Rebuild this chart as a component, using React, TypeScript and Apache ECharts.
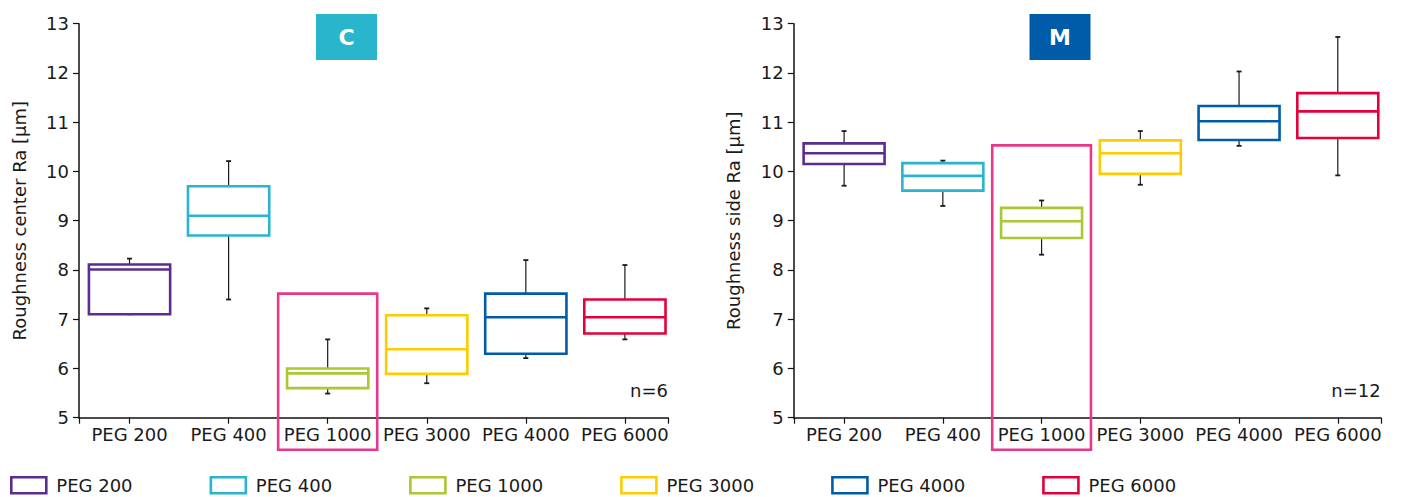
import React, { useEffect, useRef } from "react";
import * as echarts from "echarts";

const categories = ["PEG 200", "PEG 400", "PEG 1000", "PEG 3000", "PEG 4000", "PEG 6000"];
const colors = ["#5b2d8e", "#29b5cd", "#a9c834", "#ffcc00", "#005ca9", "#e4003a"];

// [min, Q1, median, Q3, max]
const centerValues = [
  [7.1, 7.1, 8.01, 8.11, 8.23],
  [7.4, 8.7, 9.1, 9.7, 10.21],
  [5.49, 5.6, 5.9, 6.0, 6.59],
  [5.7, 5.89, 6.39, 7.08, 7.22],
  [6.21, 6.3, 7.04, 7.52, 8.2],
  [6.59, 6.71, 7.04, 7.4, 8.1],
];
const sideValues = [
  [9.71, 10.15, 10.37, 10.57, 10.82],
  [9.3, 9.61, 9.91, 10.17, 10.22],
  [8.31, 8.65, 8.99, 9.26, 9.41],
  [9.73, 9.95, 10.37, 10.63, 10.82],
  [10.52, 10.64, 11.02, 11.33, 12.03],
  [9.92, 10.68, 11.22, 11.59, 12.73],
];
const yTicks = [5, 6, 7, 8, 9, 10, 11, 12, 13];
const highlightIndex = 2;
const highlightTop = [7.52, 10.53];
const panelTitles = ["C", "M"];
const panelTitleColors = ["#29b6cc", "#005ca9"];
const panelYNames = ["Roughness center Ra [µm]", "Roughness side Ra [µm]"];
const panelN = ["n=6", "n=12"];

const FONT = "DejaVu Sans, Verdana, sans-serif";
const TEXT = "#1a1a1a";

export default function App() {
  const ref = useRef<HTMLDivElement>(null);
  useEffect(() => {
    document.body.style.margin = "0";
    if (!ref.current) return;
    const chart = echarts.init(ref.current, null, { renderer: "svg" });

    const grids = [
      { left: 79, top: 23.7, width: 589, height: 394 },
      { left: 793.75, top: 23.7, width: 587, height: 394 },
    ];
    const xMin = -0.51;
    const xMax = 5.435;

    const xAxes = grids.map((_, gi) => ({
      type: "value",
      gridIndex: gi,
      min: xMin,
      max: xMax,
      splitLine: { show: false },
      axisLine: { show: true, onZero: false, lineStyle: { color: "#111", width: 1.5 } },
      axisTick: {
        show: true,
        length: 6,
        customValues: [xMin, ...categories.map((_, i) => i), xMax],
        lineStyle: { color: "#111", width: 1.2 },
      },
      axisLabel: {
        customValues: categories.map((_, i) => i),
        formatter: (v: number) => categories[Math.round(v)],
        fontSize: 18,
        fontFamily: FONT,
        color: TEXT,
        margin: 8,
      },
    }));

    const yAxes = grids.map((_, gi) => ({
      type: "value",
      gridIndex: gi,
      min: yTicks[0],
      max: yTicks[yTicks.length - 1],
      interval: 1,
      name: panelYNames[gi],
      nameLocation: "middle",
      nameGap: 51,
      nameTextStyle: { fontSize: 18, fontFamily: FONT, color: TEXT },
      splitLine: { show: false },
      axisLine: { show: true, onZero: false, lineStyle: { color: "#111", width: 1.5 } },
      axisTick: { show: true, length: 6, lineStyle: { color: "#111", width: 1.2 } },
      axisLabel: { fontSize: 18, fontFamily: FONT, color: TEXT, margin: 10 },
    }));

    const boxRender = (params: any, api: any) => {
      const x = api.value(0);
      const pMin = api.coord([x, api.value(1)]);
      const pQ1 = api.coord([x, api.value(2)]);
      const pMed = api.coord([x, api.value(3)]);
      const pQ3 = api.coord([x, api.value(4)]);
      const pMax = api.coord([x, api.value(5)]);
      const bw = api.size([0.82, 0])[0];
      const cx = pMed[0];
      const half = bw / 2;
      const color = api.visual("color");
      const wStyle = { stroke: "#1a1a1a", lineWidth: 1.2 };
      const capStyle = { stroke: "#1a1a1a", lineWidth: 1.8 };
      return {
        type: "group",
        children: [
          { type: "line", shape: { x1: cx, y1: pMax[1], x2: cx, y2: pQ3[1] }, style: wStyle },
          { type: "line", shape: { x1: cx, y1: pQ1[1], x2: cx, y2: pMin[1] }, style: wStyle },
          { type: "line", shape: { x1: cx - 2.5, y1: pMax[1], x2: cx + 2.5, y2: pMax[1] }, style: capStyle },
          { type: "line", shape: { x1: cx - 2.5, y1: pMin[1], x2: cx + 2.5, y2: pMin[1] }, style: capStyle },
          {
            type: "rect",
            shape: { x: cx - half, y: pQ3[1], width: bw, height: pQ1[1] - pQ3[1] },
            style: { fill: "#fff", stroke: color, lineWidth: 2.6 },
          },
          { type: "line", shape: { x1: cx - half, y1: pMed[1], x2: cx + half, y2: pMed[1] }, style: { stroke: color, lineWidth: 2.6 } },
        ],
      };
    };

    const highlightRender = (params: any, api: any) => {
      const x = api.value(0);
      const l = api.coord([x - 0.5, api.value(1)]);
      const r = api.coord([x + 0.5, api.value(1)]);
      const cs = params.coordSys;
      const bottom = cs.y + cs.height + 32;
      return {
        type: "rect",
        shape: { x: l[0], y: l[1], width: r[0] - l[0], height: bottom - l[1] },
        style: { fill: "none", stroke: "#e8388c", lineWidth: 2.6 },
      };
    };

    const series: any[] = [];
    [centerValues, sideValues].forEach((vals, gi) => {
      vals.forEach((v, i) => {
        series.push({
          type: "custom",
          name: categories[i],
          xAxisIndex: gi,
          yAxisIndex: gi,
          itemStyle: { color: colors[i] },
          dimensions: ["cat", "min", "q1", "med", "q3", "max"],
          encode: { x: 0, y: [1, 2, 3, 4, 5] },
          data: [[i, ...v]],
          renderItem: boxRender,
          clip: false,
          silent: true,
        });
      });
      series.push({
        type: "custom",
        name: "highlight" + gi,
        xAxisIndex: gi,
        yAxisIndex: gi,
        dimensions: ["cat", "top"],
        encode: { x: 0, y: 1 },
        data: [[highlightIndex, highlightTop[gi]]],
        renderItem: highlightRender,
        clip: false,
        silent: true,
        z: 5,
      });
    });

    const titleCenters = [346.5, 1060];
    const graphic: any[] = [];
    panelTitles.forEach((t, gi) => {
      graphic.push({
        type: "rect",
        shape: { x: titleCenters[gi] - 30.5, y: 14, width: 61, height: 46 },
        style: { fill: panelTitleColors[gi] },
      });
      graphic.push({
        type: "text",
        x: titleCenters[gi],
        y: 37,
        style: {
          text: t,
          fill: "#fff",
          font: `bold 22px ${FONT}`,
          textAlign: "center",
          textVerticalAlign: "middle",
        },
      });
      graphic.push({
        type: "text",
        x: grids[gi].left + grids[gi].width,
        y: 390,
        style: {
          text: panelN[gi],
          fill: TEXT,
          font: `18px ${FONT}`,
          textAlign: "right",
          textVerticalAlign: "middle",
        },
      });
    });

    chart.setOption({
      animation: false,
      backgroundColor: "#fff",
      textStyle: { fontFamily: FONT },
      grid: grids,
      xAxis: xAxes,
      yAxis: yAxes,
      legend: {
        left: 10,
        top: 476,
        padding: 0,
        itemWidth: 35,
        itemHeight: 16,
        itemGap: 77,
        icon: "rect",
        selectedMode: false,
        textStyle: { fontSize: 18, fontFamily: FONT, color: TEXT, padding: [0, 0, 0, 5] },
        data: categories.map((c, i) => ({
          name: c,
          itemStyle: { color: "#fff", borderColor: colors[i], borderWidth: 2.6 },
        })),
      },
      series,
      graphic,
    });

    return () => chart.dispose();
  }, []);
  return <div ref={ref} style={{ width: 1401, height: 497 }} />;
}
